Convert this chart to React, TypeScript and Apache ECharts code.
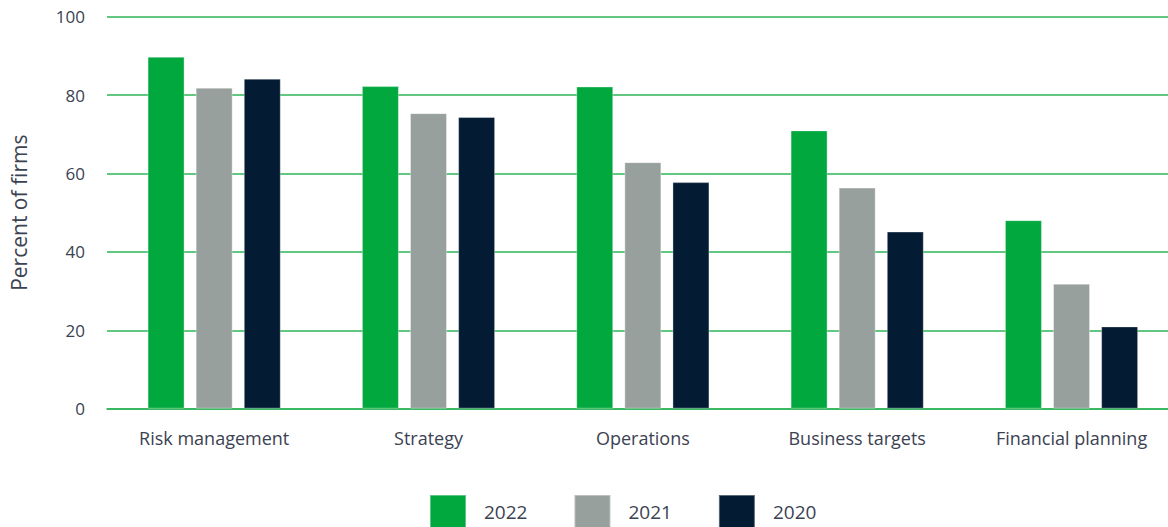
import React, { useEffect, useRef } from "react";
import * as echarts from "echarts";

const categories = ["Risk management", "Strategy", "Operations", "Business targets", "Financial planning"];
const seriesNames = ["2022", "2021", "2020"];
const values2022 = [89.8, 82.3, 82.2, 71.0, 48.1];
const values2021 = [81.9, 75.4, 62.9, 56.4, 31.9];
const values2020 = [84.2, 74.4, 57.8, 45.2, 21.0];
const seriesColors = ["#00a83e", "#98a09d", "#041c33"];

const FONT = "Open Sans";
const TEXT_COLOR = "#3b4252";
const GRID_GREEN = "#2cb457";

export default function App() {
  const ref = useRef<HTMLDivElement>(null);
  useEffect(() => {
    document.body.style.margin = "0";
    document.body.style.overflow = "hidden";
    if (!ref.current) return;
    const chart = echarts.init(ref.current, undefined, { renderer: "svg" });
    const data = [values2022, values2021, values2020];
    chart.setOption({
      animation: false,
      textStyle: { fontFamily: FONT },
      grid: { left: 106, top: 16.7, width: 1072.7, height: 392, containLabel: false },
      legend: {
        left: 429,
        top: 494,
        padding: 0,
        itemWidth: 36,
        itemHeight: 33,
        itemGap: 46,
        icon: "rect",
        data: seriesNames,
        textStyle: { fontFamily: FONT, fontSize: 19, color: TEXT_COLOR, padding: [0, 0, 0, 13] },
      },
      xAxis: {
        type: "category",
        data: categories,
        axisLine: { lineStyle: { color: GRID_GREEN, width: 1.5 } },
        axisTick: { show: false },
        axisLabel: { fontFamily: FONT, fontSize: 18, color: TEXT_COLOR, margin: 20 },
      },
      yAxis: {
        type: "value",
        min: 0,
        max: 100,
        interval: 20,
        name: "Percent of firms",
        nameLocation: "middle",
        nameGap: 78,
        nameTextStyle: { fontFamily: FONT, fontSize: 21, color: TEXT_COLOR },
        axisLine: { show: false },
        axisTick: { show: false },
        axisLabel: { fontFamily: FONT, fontSize: 17, color: TEXT_COLOR, margin: 22 },
        splitLine: { lineStyle: { color: GRID_GREEN, width: 1.5 } },
      },
      series: seriesNames.map((name, i) => ({
        name,
        type: "bar",
        data: data[i],
        barWidth: 37,
        barGap: "30%",
        itemStyle: { color: seriesColors[i], borderColor: "rgba(255,255,255,0.35)", borderWidth: 1 },
      })),
    });
    return () => chart.dispose();
  }, []);
  return <div ref={ref} style={{ width: 1180, height: 527 }} />;
}
